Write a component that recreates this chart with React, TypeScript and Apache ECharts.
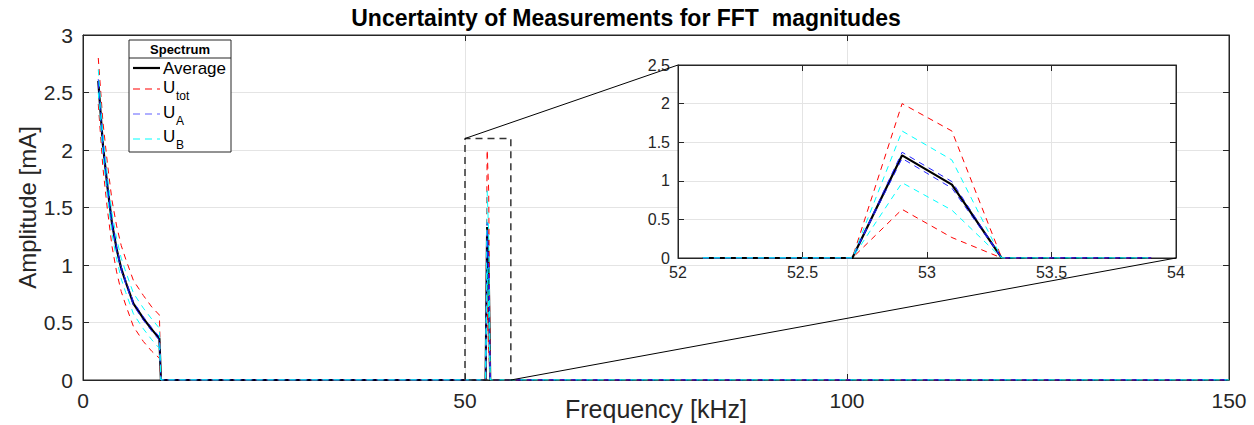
import React, { useEffect, useRef } from "react";
import * as echarts from "echarts";

// ---- data (frequency in kHz, amplitude in mA) ----
const freqLow = [2.0, 2.6, 3.2, 3.8, 4.4, 5.0, 5.6, 6.6, 7.9, 9.0, 10.0, 10.2];
const avgLow = [2.6, 2.05, 1.68, 1.36, 1.14, 0.97, 0.85, 0.665, 0.535, 0.44, 0.36, 0];
const utotUpLow = [2.8, 2.25, 1.88, 1.56, 1.34, 1.17, 1.05, 0.865, 0.735, 0.635, 0.565, 0];
const utotLoLow = [2.4, 1.85, 1.48, 1.16, 0.94, 0.77, 0.65, 0.465, 0.335, 0.25, 0.19, 0];
const uaUpLow = [2.615, 2.065, 1.695, 1.375, 1.155, 0.985, 0.865, 0.68, 0.55, 0.455, 0.375, 0];
const uaLoLow = [2.585, 2.035, 1.665, 1.345, 1.125, 0.955, 0.835, 0.65, 0.52, 0.425, 0.345, 0];
const ubUpLow = [2.7, 2.14, 1.77, 1.45, 1.23, 1.06, 0.94, 0.755, 0.625, 0.53, 0.45, 0];
const ubLoLow = [2.5, 1.96, 1.59, 1.27, 1.05, 0.88, 0.76, 0.575, 0.445, 0.35, 0.275, 0];

const freqSpike = [52.1, 52.3, 52.5, 52.7, 52.9, 53.1, 53.3, 53.5, 53.7, 53.9];
const avgSpike = [0, 0, 0, 0, 1.33, 0.95, 0, 0, 0, 0];
const utotUpSpike = [0, 0, 0, 0, 2.0, 1.645, 0, 0, 0, 0];
const utotLoSpike = [0, 0, 0, 0, 0.63, 0.265, 0, 0, 0, 0];
const uaUpSpike = [0, 0, 0, 0, 1.37, 0.99, 0, 0, 0, 0];
const uaLoSpike = [0, 0, 0, 0, 1.29, 0.905, 0, 0, 0, 0];
const ubUpSpike = [0, 0, 0, 0, 1.645, 1.27, 0, 0, 0, 0];
const ubLoSpike = [0, 0, 0, 0, 0.975, 0.62, 0, 0, 0, 0];

const freqEnd = [150];
const zeroEnd = [0];

const zoomBoxX = [50, 50, 56, 56, 50];
const zoomBoxY = [0, 2.1, 2.1, 0, 0];

const mainXTicks = { min: 0, max: 150, interval: 50 };
const mainYTicks = { min: 0, max: 3, interval: 0.5 };
const insetXTicks = { min: 52, max: 54, interval: 0.5 };
const insetYTicks = { min: 0, max: 2.5, interval: 0.5 };

const FONT = "'Liberation Sans', Arial, sans-serif";
const AXC = "#262626";
const RED = "#ff0000";
const BLUE = "#2020ff";
const CYAN = "#00ffff";

function pairs(xs: number[], ys: number[]) {
  return xs.map((x, i) => [x, ys[i]]);
}
function fullSeries(low: number[], spike: number[]) {
  return [
    ...pairs(freqLow, low),
    ...pairs(freqSpike, spike),
    ...pairs(freqEnd, zeroEnd),
  ];
}

export default function App() {
  const ref = useRef<HTMLDivElement>(null);
  useEffect(() => {
    if (!ref.current) return;
    const chart = echarts.init(ref.current, undefined, { renderer: "svg" });

    const axisCommon = (extra: any) => ({
      type: "value",
      axisLine: { show: true, onZero: false, lineStyle: { color: AXC, width: 1 } },
      axisTick: { show: true, inside: true, length: 6, lineStyle: { color: AXC } },
      splitLine: { show: false },
      ...extra,
    });

    const dashed = (color: string, w = 1) => ({
      color,
      width: w,
      type: [6, 5] as any,
    });

    const mk = (
      name: string,
      data: number[][],
      lineStyle: any,
      xi: number,
      yi: number,
      z: number
    ) => ({
      type: "line",
      name,
      data,
      xAxisIndex: xi,
      yAxisIndex: yi,
      showSymbol: false,
      symbol: "none",
      lineStyle,
      itemStyle: { color: lineStyle.color },
      z,
      silent: true,
    });

    const buildSet = (xi: number, yi: number, z: number, spikeOnly: boolean) => {
      const d = (low: number[], spike: number[]) =>
        spikeOnly ? pairs(freqSpike, spike) : fullSeries(low, spike);
      return [
        mk("Average", d(avgLow, avgSpike), { color: "#000", width: 2.2 }, xi, yi, z),
        mk("Utot", d(utotUpLow, utotUpSpike), dashed(RED), xi, yi, z),
        mk("Utot", d(utotLoLow, utotLoSpike), dashed(RED), xi, yi, z),
        mk("UA", d(uaUpLow, uaUpSpike), dashed(BLUE), xi, yi, z),
        mk("UA", d(uaLoLow, uaLoSpike), dashed(BLUE), xi, yi, z),
        mk("UB", d(ubUpLow, ubUpSpike), dashed(CYAN), xi, yi, z),
        mk("UB", d(ubLoLow, ubLoSpike), dashed(CYAN), xi, yi, z),
      ];
    };

    const option: any = {
      animation: false,
      backgroundColor: "#fff",
      textStyle: { fontFamily: FONT },
      title: {
        text: "Uncertainty of Measurements for FFT  magnitudes",
        left: 621,
        textAlign: "center",
        top: 1,
        textStyle: { fontSize: 23, fontWeight: "bold", color: "#000", fontFamily: FONT },
      },
      grid: [
        {
          left: 83, right: 25, top: 35, bottom: 45, outerBoundsMode: "none", containLabel: false,
          show: true, backgroundColor: "#fff", borderColor: AXC, borderWidth: 1, z: 0,
        },
        {
          left: 678, right: 78, top: 65, bottom: 167, outerBoundsMode: "none", containLabel: false,
          show: true, backgroundColor: "#fff", borderColor: AXC, borderWidth: 1, z: 10,
        },
      ],
      xAxis: [
        axisCommon({
          gridIndex: 0, position: "bottom", ...mainXTicks,
          axisLabel: { fontSize: 21, color: AXC, margin: 10, fontFamily: FONT },
          splitLine: { show: true, lineStyle: { color: "#e4e4e4", width: 1 } },
          name: "Frequency [kHz]", nameLocation: "middle", nameGap: 16, nameMoveOverlap: false,
          nameTextStyle: { fontSize: 25, color: AXC, fontFamily: FONT, verticalAlign: "top" },
        }),
        axisCommon({
          gridIndex: 0, position: "top", ...mainXTicks, axisLabel: { show: false },
        }),
        axisCommon({
          gridIndex: 1, position: "bottom", ...insetXTicks, z: 11,
          axisLabel: { fontSize: 16, color: AXC, margin: 6, fontFamily: FONT },
          splitLine: { show: true, lineStyle: { color: "#e4e4e4", width: 1 } },
        }),
        axisCommon({
          gridIndex: 1, position: "top", ...insetXTicks, z: 11, axisLabel: { show: false },
        }),
      ],
      yAxis: [
        axisCommon({
          gridIndex: 0, position: "left", ...mainYTicks,
          axisLabel: { fontSize: 21, color: AXC, margin: 10, fontFamily: FONT },
          splitLine: { show: true, lineStyle: { color: "#e4e4e4", width: 1 } },
          name: "Amplitude [mA]", nameLocation: "middle", nameGap: 44, nameMoveOverlap: false,
          nameTextStyle: { fontSize: 24, color: AXC, fontFamily: FONT },
        }),
        axisCommon({
          gridIndex: 0, position: "right", ...mainYTicks, axisLabel: { show: false },
        }),
        axisCommon({
          gridIndex: 1, position: "left", ...insetYTicks, z: 11,
          axisLabel: { fontSize: 16, color: AXC, margin: 8, fontFamily: FONT },
          splitLine: { show: true, lineStyle: { color: "#e4e4e4", width: 1 } },
        }),
        axisCommon({
          gridIndex: 1, position: "right", ...insetYTicks, z: 11, axisLabel: { show: false },
        }),
      ],
      series: [
        ...buildSet(0, 0, 2, false),
        mk("zoom", pairs(zoomBoxX, zoomBoxY), { color: "#333", width: 1.5, type: [7, 5] }, 0, 0, 3),
        ...buildSet(2, 2, 12, true),
      ],
    };
    chart.setOption(option);

    const rTL = chart.convertToPixel({ xAxisIndex: 0, yAxisIndex: 0 } as any, [zoomBoxX[1], zoomBoxY[1]]) as number[];
    const rBR = chart.convertToPixel({ xAxisIndex: 0, yAxisIndex: 0 } as any, [zoomBoxX[3], zoomBoxY[3]]) as number[];
    const iTL = chart.convertToPixel({ xAxisIndex: 2, yAxisIndex: 2 } as any, [insetXTicks.min, insetYTicks.max]) as number[];
    const iBR = chart.convertToPixel({ xAxisIndex: 2, yAxisIndex: 2 } as any, [insetXTicks.max, insetYTicks.min]) as number[];

    const lx = 129, ly = 40, lw = 102, lh = 112;
    const lineX1 = 133, lineX2 = 160, textX = 163;
    const entry = (y: number, color: string, solid: boolean) => ({
      type: "line",
      shape: { x1: lineX1, y1: y, x2: lineX2, y2: y },
      style: solid
        ? { stroke: color, lineWidth: 2.2 }
        : { stroke: color, lineWidth: 1.2, lineDash: [7, 5] },
      z: 101,
    });
    const uText = (y: number, sub: string) => [
      {
        type: "text", x: textX, y, z: 101,
        style: { text: "U", font: `17px ${FONT}`, fill: "#000", textVerticalAlign: "middle" },
      },
      {
        type: "text", x: textX + 13, y: y + 9, z: 101,
        style: { text: sub, font: `12px ${FONT}`, fill: "#000", textVerticalAlign: "middle" },
      },
    ];

    chart.setOption({
      graphic: {
        elements: [
          {
            type: "line", z: 20,
            shape: { x1: rTL[0], y1: rTL[1], x2: iTL[0], y2: iTL[1] },
            style: { stroke: "#000", lineWidth: 1 },
          },
          {
            type: "line", z: 20,
            shape: { x1: rBR[0], y1: rBR[1], x2: iBR[0], y2: iBR[1] },
            style: { stroke: "#000", lineWidth: 1 },
          },
          {
            type: "rect", z: 100,
            shape: { x: lx, y: ly, width: lw, height: lh },
            style: { fill: "#fff", stroke: AXC, lineWidth: 1 },
          },
          {
            type: "line", z: 101,
            shape: { x1: lx, y1: 58, x2: lx + lw, y2: 58 },
            style: { stroke: AXC, lineWidth: 1 },
          },
          {
            type: "text", x: lx + lw / 2, y: 49, z: 101,
            style: {
              text: "Spectrum", font: `bold 13px ${FONT}`, fill: "#000",
              textAlign: "center", textVerticalAlign: "middle",
            },
          },
          entry(68, "#000", true),
          {
            type: "text", x: textX, y: 68, z: 101,
            style: { text: "Average", font: `17px ${FONT}`, fill: "#000", textVerticalAlign: "middle" },
          },
          entry(89, RED, false),
          ...uText(87, "tot"),
          entry(114, "#6060ff", false),
          ...uText(112, "A"),
          entry(139, CYAN, false),
          ...uText(136, "B"),
        ],
      },
    });

    return () => chart.dispose();
  }, []);
  return (
    <div
      ref={ref}
      style={{ position: "absolute", left: 0, top: 0, width: 1254, height: 425 }}
    />
  );
}
